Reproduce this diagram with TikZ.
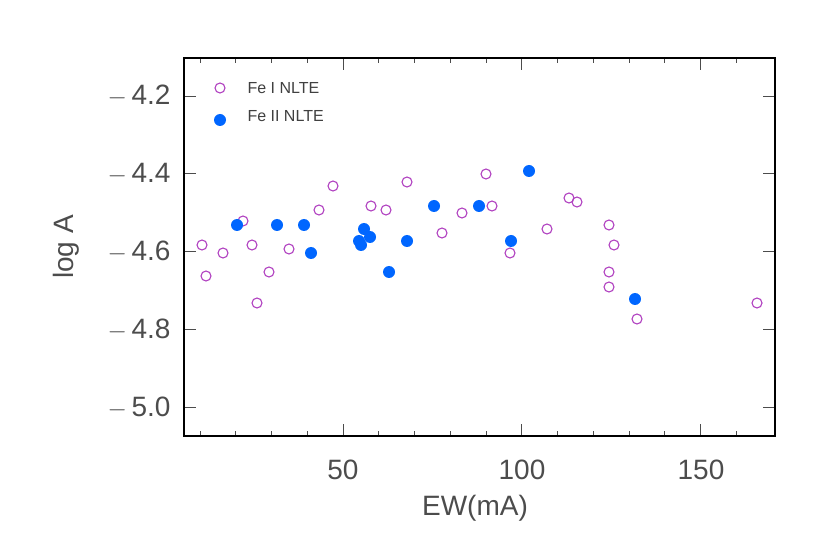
\documentclass[tikz,border=0pt]{standalone}
\usepackage{fontspec}
\setmainfont{Liberation Sans}
\begin{document}
\begin{tikzpicture}[x=1pt,y=-1pt,
  feI/.style={circle,draw=violet!80!magenta,line width=1.1pt,minimum size=10pt,inner sep=0pt},
  feII/.style={circle,fill=blue!60!cyan!90!black,draw=none,minimum size=12pt,inner sep=0pt},
  ticklab/.style={text=black!70,font=\fontsize{28}{30}\selectfont},
  leg/.style={text=black!75,font=\fontsize{16}{18}\selectfont,anchor=west}]
\useasboundingbox (0,0) rectangle (830,553);
\definecolor{fb}{HTML}{0066FF}
\definecolor{fo}{HTML}{B040C0}
\tikzset{feI/.append style={draw=fo},feII/.append style={fill=fb}}
% ticks
\foreach \i in {1,...,16}{
  \pgfmathsetmacro\xx{200+(\i-1)*35.75}
  \pgfmathsetmacro\len{ifthenelse(mod(\i,5)==0,12,5)}
  \draw[black!70,line width=0.9pt] (\xx,436) -- ++(0,-\len);
  \draw[black!70,line width=0.9pt] (\xx,58) -- ++(0,\len);
}
\foreach \v/\yy in {-4.2/96,-4.4/173.5,-4.6/251.5,-4.8/329.5,-5.0/407.5}{
  \draw[black!70,line width=0.9pt] (184,\yy) -- ++(12,0);
  \draw[black!70,line width=0.9pt] (775,\yy) -- ++(-12,0);
}
\node[ticklab,anchor=east] (y1) at (174,96) {$-$\,4.2};
\node[ticklab,anchor=east] (y2) at (174,173.5) {$-$\,4.4};
\node[ticklab,anchor=east] (y3) at (174,251.5) {$-$\,4.6};
\node[ticklab,anchor=east] (y4) at (174,329.5) {$-$\,4.8};
\node[ticklab,anchor=east] (y5) at (174,407.5) {$-$\,5.0};
\node[ticklab] (x1) at (343,470) {50};
\node[ticklab] (x2) at (522,470) {100};
\node[ticklab] (x3) at (701,470) {150};
\node[ticklab] (xl) at (475,508) {EW(mA)};
\node[ticklab,rotate=90] (yl) at (66,247) {log A};
\draw[black,line width=2.2pt] (184,58) rectangle (775,436);
% legend
\node[feI] (l1) at (220,88) {};
\node[leg] (t1) at (244,88) {Fe I NLTE};
\node[feII] (l2) at (220,120) {};
\node[leg] (t2) at (244,116) {Fe II NLTE};
% Fe I
\foreach \a/\b [count=\k] in {202/245,206/276,223/253,243/221,252/245,257/303,269/272,289/249,319/210,333/186,371/206,386/210,407/182,442/233,462/213,486/174,492/206,510/253,547/229,569/198,577/202,609/225,614/245,609/272,609/287,637/319,757/303}
  \node[feI] (o\k) at (\a,\b) {};
% Fe II
\foreach \a/\b [count=\k] in {237/225,277/225,304/225,311/253,364/229,370/237,359/241,361/245,389/272,407/241,434/206,479/206,529/171,511/241,635/299}
  \node[feII] (f\k) at (\a,\b) {};
\end{tikzpicture}
\end{document}
